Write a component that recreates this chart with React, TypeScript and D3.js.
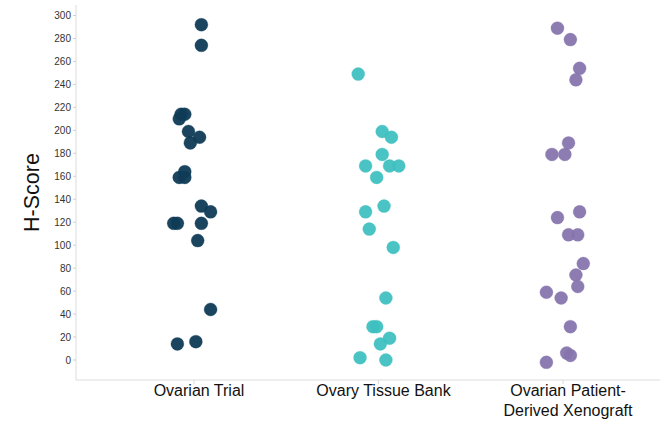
import React from 'react';
import * as d3 from 'd3';

const categories = ['Ovarian Trial', 'Ovary Tissue Bank', 'Ovarian Patient-Derived Xenograft'];
const categoryLines = [['Ovarian Trial'], ['Ovary Tissue Bank'], ['Ovarian Patient-', 'Derived Xenograft']];
const colors = ['#0f3b56', '#3fc0c0', '#8675ad'];

// H-scores, plus the horizontal jitter (fraction of the category step)
const trialScores = [292, 274, 214, 214, 210, 199, 194, 189, 164, 159, 159, 134, 129, 119, 119, 119, 104, 44, 14, 16];
const trialJitter = [0.04, 0.04, -0.07, -0.05, -0.08, -0.03, 0.03, -0.02, -0.05, -0.08, -0.05, 0.04, 0.09, -0.11, -0.09, 0.04, 0.02, 0.09, -0.09, 0.01];

const tissueScores = [249, 199, 194, 179, 169, 169, 169, 159, 134, 129, 114, 98, 54, 29, 29, 19, 14, 2, 0];
const tissueJitter = [-0.11, 0.02, 0.07, 0.02, -0.07, 0.06, 0.11, -0.01, 0.03, -0.07, -0.05, 0.08, 0.04, -0.03, -0.01, 0.06, 0.01, -0.1, 0.04];

const pdxScores = [289, 279, 254, 244, 189, 179, 179, 129, 124, 109, 109, 84, 74, 64, 59, 54, 29, 6, 4, -2];
const pdxJitter = [-0.03, 0.04, 0.09, 0.07, 0.03, -0.06, 0.01, 0.09, -0.03, 0.03, 0.08, 0.11, 0.07, 0.08, -0.09, -0.01, 0.04, 0.02, 0.04, -0.09];

const yTicks = d3.range(0, 301, 20);

const width = 663;
const height = 422;

export default function App() {
  const plotLeft = 76;
  const plotRight = 660;
  const plotTop = 5;
  const plotBottom = 380;

  const y = d3.scaleLinear().domain([0, 300]).range([360, 15.5]);
  const x = d3.scalePoint<string>().domain(categories).range([194, 563]);
  const step = x.step();

  const groups = [
    { scores: trialScores, jitter: trialJitter },
    { scores: tissueScores, jitter: tissueJitter },
    { scores: pdxScores, jitter: pdxJitter },
  ];

  const font = '"Liberation Sans", Arial, sans-serif';

  return (
    <svg width={width} height={height} style={{ position: 'absolute', left: 0, top: 0 }} fontFamily={font}>
      <rect width={width} height={height} fill="#fff" />
      {/* axis lines */}
      <line x1={plotLeft} x2={plotLeft} y1={plotTop} y2={plotBottom} stroke="#dcdcdc" />
      <line x1={plotLeft} x2={plotRight} y1={plotBottom} y2={plotBottom} stroke="#dcdcdc" />

      {yTicks.map((t) => (
        <g key={t} transform={`translate(0,${y(t)})`}>
          <line x1={plotLeft - 3} x2={plotLeft} stroke="#cfcfcf" />
          <text x={plotLeft - 5} dy="0.35em" textAnchor="end" fontSize={10} fill="#333">
            {t}
          </text>
        </g>
      ))}

      <text
        transform={`translate(39,${(plotTop + plotBottom) / 2}) rotate(-90)`}
        textAnchor="middle"
        fontSize={21.5}
        fill="#111"
      >
        H-Score
      </text>

      {categories.map((c, i) => (
        <g key={c} transform={`translate(${x(c)},0)`}>
          <line y1={plotBottom} y2={plotBottom + 4} stroke="#dcdcdc" />
          <text textAnchor="middle" fontSize={16} fill="#111">
            {categoryLines[i].map((l, j) => (
              <tspan key={j} x={5} y={plotBottom + 16 + j * 20}>
                {l}
              </tspan>
            ))}
          </text>
        </g>
      ))}

      {groups.map((g, gi) => (
        <g key={gi} fill={colors[gi]}>
          {g.scores.map((s, i) => (
            <circle
              key={i}
              cx={(x(categories[gi]) as number) + g.jitter[i] * step}
              cy={y(s)}
              r={6.5}
              fillOpacity={0.95}
              stroke={colors[gi]}
              strokeOpacity={0.6}
              strokeWidth={0.5}
            />
          ))}
        </g>
      ))}
    </svg>
  );
}
